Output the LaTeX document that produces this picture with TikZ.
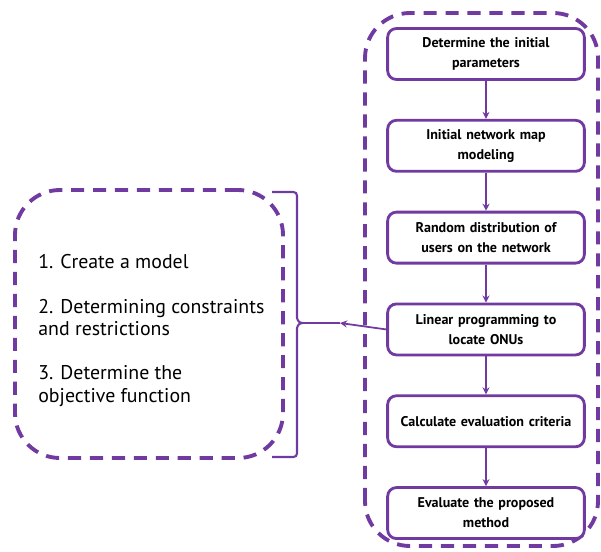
\documentclass[tikz,border=0pt]{standalone}
\usepackage{fontspec}
\setmainfont{PT Sans}
\usetikzlibrary{positioning,arrows.meta}
\definecolor{lilac}{RGB}{112,58,160}
\begin{document}
\begin{tikzpicture}[
  stage/.style={draw=lilac,line width=1.6pt,rounded corners=5pt,fill=white,
    minimum width=3.86cm,minimum height=1.02cm,text width=3.7cm,align=center,
    font=\bfseries\fontsize{8}{11.5}\selectfont},
  flow/.style={draw=lilac,line width=1pt,-{Stealth[length=4pt,width=4pt]}},
  frame/.style={draw=lilac,line width=2.2pt,dash pattern=on 7.5pt off 5pt},
  brace/.style={draw=lilac,line width=1.2pt},
  item/.style={anchor=west,inner sep=0pt,align=left,font=\fontsize{11.3}{13}\selectfont},
  node distance=0.76cm]
\useasboundingbox (0,0) rectangle (12.02,11.02);

\draw[frame,rounded corners=0.9cm] (7.30,0.10) rectangle (11.96,10.76);

\node[stage] (s1) at (9.72,9.94) {Determine the initial\\parameters};
\node[stage,below=of s1] (s2) {Initial network map\\modeling};
\node[stage,below=of s2] (s3) {Random distribution of\\users on the network};
\node[stage,below=of s3] (s4) {Linear programming to\\locate ONUs};
\node[stage,below=of s4] (s5) {Calculate evaluation criteria};
\node[stage,below=of s5] (s6) {Evaluate the proposed\\method};

\foreach \a/\b in {s1/s2,s2/s3,s3/s4,s4/s5,s5/s6}
  \draw[flow] (\a) -- (\b);

\node[frame,rounded corners=0.9cm,minimum width=5.36cm,minimum height=5.36cm] (model) at (2.98,4.54) {};
\node[item] (i1) at (0.76,5.78) {1. Create a model};
\node[item] (i2) at (0.76,4.67) {2. Determining constraints\\and restrictions};
\node[item] (i3) at (0.76,3.30) {3. Determine the\\objective function};

\coordinate (tip) at (6.04,4.56);
\coordinate (head) at (6.80,4.56);
\draw[brace,rounded corners=2pt] (5.44,7.18) -- (5.94,7.18) -- (5.94,4.74) to[out=-90,in=180] (tip);
\draw[brace,rounded corners=2pt] (5.44,1.88) -- (5.94,1.88) -- (5.94,4.38) to[out=90,in=180] (tip);
\draw[flow] (s4.west) -- (head);
\draw[brace,line width=1pt] (head) -- (tip);
\end{tikzpicture}
\end{document}
